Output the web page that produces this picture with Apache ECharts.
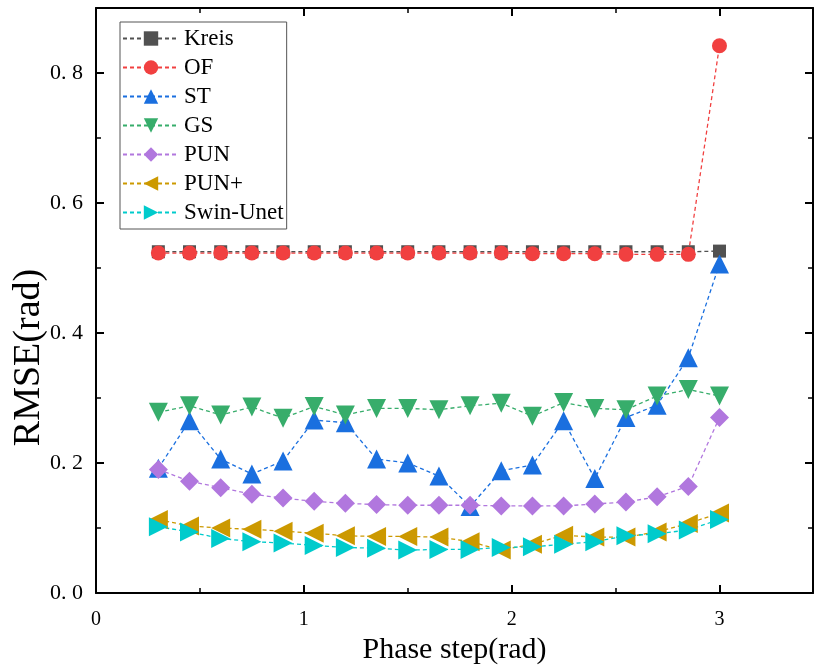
<!DOCTYPE html>
<html>
<head>
<meta charset="utf-8">
<script src="https://cdn.jsdelivr.net/npm/echarts@6/dist/echarts.min.js"></script>
<style>
  html, body { margin: 0; padding: 0; background: #fff; }
  #main { width: 814px; height: 672px; }
</style>
</head>
<body>
<div id="main"></div>
<script>
// phase steps 0.3 .. 3.0
var steps = [0.3, 0.45, 0.6, 0.75, 0.9, 1.05, 1.2, 1.35, 1.5, 1.65, 1.8, 1.95, 2.1, 2.25, 2.4, 2.55, 2.7, 2.85, 3.0];

var kreis = [0.525, 0.525, 0.525, 0.525, 0.525, 0.525, 0.525, 0.525, 0.525, 0.525, 0.525, 0.525, 0.525, 0.525, 0.525, 0.525, 0.525, 0.525, 0.526];
var of = [0.523, 0.523, 0.523, 0.523, 0.523, 0.523, 0.523, 0.523, 0.523, 0.523, 0.523, 0.523, 0.522, 0.522, 0.522, 0.521, 0.521, 0.521, 0.842];
var st = [0.192, 0.265, 0.206, 0.183, 0.203, 0.266, 0.262, 0.206, 0.200, 0.180, 0.133, 0.188, 0.197, 0.265, 0.176, 0.270, 0.289, 0.362, 0.506];
var gs = [0.278, 0.288, 0.274, 0.286, 0.269, 0.287, 0.274, 0.284, 0.284, 0.282, 0.288, 0.292, 0.272, 0.293, 0.284, 0.282, 0.303, 0.313, 0.303];
var pun = [0.190, 0.172, 0.162, 0.152, 0.146, 0.141, 0.138, 0.136, 0.135, 0.135, 0.135, 0.134, 0.134, 0.134, 0.137, 0.140, 0.148, 0.164, 0.270];
var punPlus = [0.113, 0.103, 0.100, 0.098, 0.095, 0.092, 0.088, 0.087, 0.087, 0.086, 0.079, 0.066, 0.075, 0.089, 0.086, 0.086, 0.094, 0.107, 0.123];
var swin = [0.102, 0.094, 0.084, 0.079, 0.077, 0.073, 0.070, 0.069, 0.066, 0.067, 0.067, 0.070, 0.071, 0.075, 0.079, 0.088, 0.091, 0.097, 0.113];

var font = 'Liberation Serif';

function pairs(arr) {
  return steps.map(function (x, i) { return [x, arr[i]]; });
}

function mk(name, data, color, symbol, size, rotate) {
  return {
    name: name,
    type: 'line',
    data: pairs(data),
    symbol: symbol,
    symbolSize: size,
    symbolRotate: rotate || 0,
    itemStyle: { color: color },
    lineStyle: { color: color, width: 1.3, type: [4, 3] },
    emphasis: { disabled: true }
  };
}

// shared look for the four frame axes
function frame(extra) {
  var base = {
    type: 'value',
    axisLine: { onZero: false, lineStyle: { color: '#000', width: 2 } },
    axisTick: { inside: true, length: 8, lineStyle: { color: '#000', width: 2 } },
    minorTick: { show: true, splitNumber: 2, length: 5, lineStyle: { color: '#000', width: 1.5 } },
    splitLine: { show: false }
  };
  return Object.assign(base, extra);
}

var myChart = echarts.init(document.getElementById('main'));

var option = {
  animation: false,
  grid: { left: 96, right: 1, top: 8, bottom: 79, outerBoundsMode: 'none' },
  legend: {
    orient: 'vertical',
    left: 120,
    top: 22,
    padding: [5, 3, 5, 2],
    itemWidth: 56,
    itemHeight: 18,
    itemGap: 6,
    borderColor: '#555',
    borderWidth: 1,
    textStyle: { fontFamily: font, fontSize: 23, color: '#000', lineHeight: 23 },
    data: ['Kreis', 'OF', 'ST', 'GS', 'PUN', 'PUN+', 'Swin-Unet']
  },
  xAxis: [frame({
    min: 0,
    max: 3.45,
    interval: 1,
    name: 'Phase step(rad)',
    nameLocation: 'middle',
    nameGap: 40,
    nameTextStyle: { fontFamily: font, fontSize: 30, color: '#000' },
    axisLabel: { fontFamily: font, fontSize: 20, color: '#000', margin: 17, showMaxLabel: false }
  }), frame({
    position: 'top',
    min: 0,
    max: 3.45,
    interval: 1,
    axisLabel: { show: false }
  })],
  yAxis: [frame({
    min: 0,
    max: 0.9,
    interval: 0.2,
    name: 'RMSE(rad)',
    nameLocation: 'middle',
    nameGap: 48,
    nameMoveOverlap: false,
    nameTextStyle: { fontFamily: font, fontSize: 38, color: '#000', padding: [0, 114, 0, 0] },
    axisLabel: {
      fontFamily: font, fontSize: 22, color: '#000', margin: 13, showMaxLabel: false,
      formatter: function (v) { return v.toFixed(1).replace('.', '. '); }
    }
  }), frame({
    position: 'right',
    min: 0,
    max: 0.9,
    interval: 0.2,
    axisLabel: { show: false }
  })],
  series: [
    mk('Kreis', kreis, '#515151', 'rect', 13),
    mk('OF', of, '#F14040', 'circle', 15),
    mk('ST', st, '#1A6FDF', 'triangle', 19),
    mk('GS', gs, '#37AD6B', 'triangle', 19, 180),
    mk('PUN', pun, '#B177DE', 'diamond', 19),
    mk('PUN+', punPlus, '#CC9900', 'triangle', 19, 90),
    mk('Swin-Unet', swin, '#00CBCC', 'triangle', 19, -90)
  ]
};

myChart.setOption(option);
</script>
</body>
</html>
